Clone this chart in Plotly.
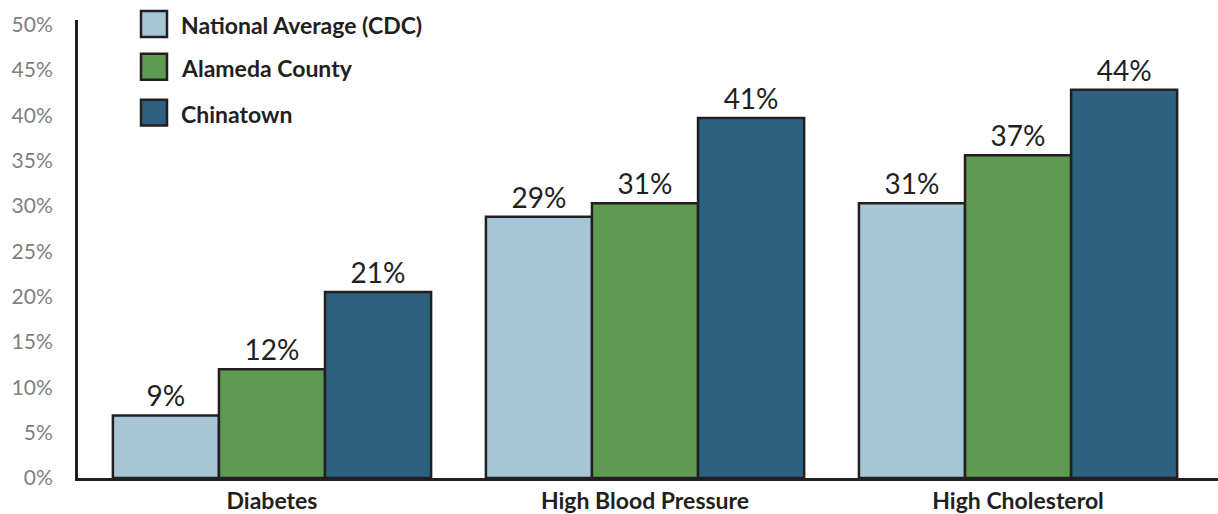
import plotly.graph_objects as go

# ---- data ----
categories = ["Diabetes", "High Blood Pressure", "High Cholesterol"]
series_names = ["National Average (CDC)", "Alameda County", "Chinatown"]
national = [6.9, 28.8, 30.3]
alameda = [12.0, 30.3, 35.6]
chinatown = [20.5, 39.7, 42.8]
national_labels = ["9%", "29%", "31%"]
alameda_labels = ["12%", "31%", "37%"]
chinatown_labels = ["21%", "41%", "44%"]
tick_vals = [0, 5, 10, 15, 20, 25, 30, 35, 40, 45, 50]
tick_text = ["\u20070%", "\u20075%", "10%", "15%", "20%", "25%", "30%", "35%", "40%", "45%", "50%"]

colors = ["#a6c6d7", "#5f9a53", "#2c627f"]
outline = "#231f20"
FONT = "Lato"

W, H = 1218, 514
M = dict(l=78, r=0, t=20, b=34)
PW = W - M["l"] - M["r"]
PH = H - M["t"] - M["b"]

fig = go.Figure()
for name, vals, labs, col in zip(series_names,
                                 [national, alameda, chinatown],
                                 [national_labels, alameda_labels, chinatown_labels],
                                 colors):
    fig.add_trace(go.Bar(
        x=categories, y=vals, name=name, text=labs,
        textposition="outside", cliponaxis=False,
        textfont=dict(family=FONT, size=28, color=outline),
        marker=dict(color=col, line=dict(color=outline, width=2.5)),
        showlegend=False, hoverinfo="skip",
    ))

# legend drawn as decoration (pixel positions converted to paper coords)
def px(x):
    return (x - M["l"]) / PW

def py(y):
    return (H - M["b"] - y) / PH

legend_centers = [24, 67, 113]
for name, col, cy in zip(series_names, colors, legend_centers):
    fig.add_shape(type="rect", xref="paper", yref="paper",
                  x0=px(141), x1=px(167), y0=py(cy + 13), y1=py(cy - 13),
                  fillcolor=col, line=dict(color=outline, width=2.5))
    fig.add_annotation(xref="paper", yref="paper", x=px(179), y=py(cy + 1),
                       xanchor="left", yanchor="middle", showarrow=False,
                       text="<b>%s</b>" % name,
                       font=dict(family=FONT, size=23, color=outline))

fig.update_layout(
    width=W, height=H, margin=M,
    paper_bgcolor="white", plot_bgcolor="white",
    barmode="group", bargap=0.147, bargroupgap=0,
    font=dict(family=FONT),
    xaxis=dict(
        type="category", range=[-0.52, 2.536],
        showline=True, linecolor=outline, linewidth=3,
        ticks="", showgrid=False, zeroline=False,
        tickfont=dict(family=FONT, size=23, color=outline, weight="bold"),
    ),
    yaxis=dict(
        range=[0, 50.5], tickvals=tick_vals, ticktext=tick_text,
        showline=True, linecolor=outline, linewidth=3,
        ticks="", showgrid=False, zeroline=False,
        tickfont=dict(family=FONT, size=21, color="#7f7f7f"),
        ticklabelstandoff=18,
    ),
)

fig.write_html("out.html",
               config={"displayModeBar": False},
               post_script="document.body.style.margin='0';document.body.style.overflow='hidden';")
